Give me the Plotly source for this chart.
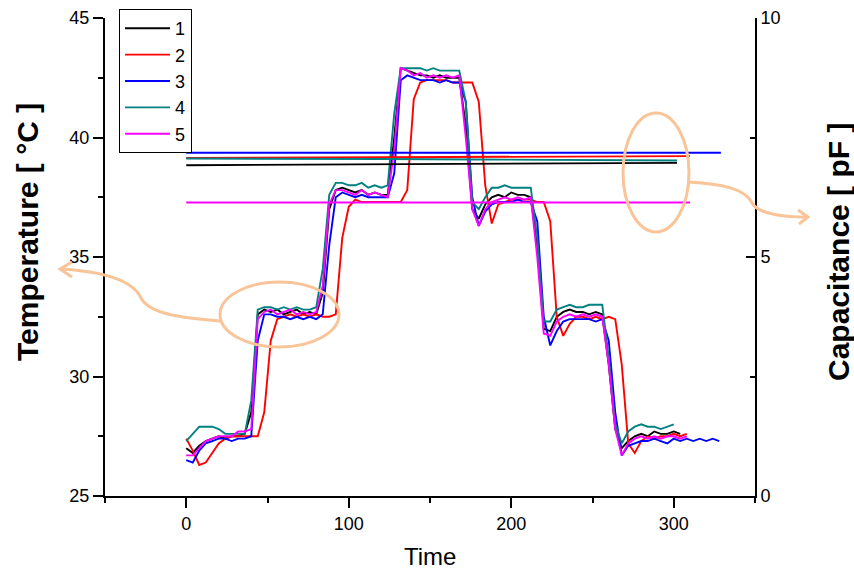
import plotly.graph_objects as go

# ---------------- data ----------------
time = list(range(0, 329, 4))  # seconds, shared sampling grid

temp_1 = [27.0, 26.8, 27.1, 27.3, 27.4, 27.5, 27.4, 27.5, 27.5, 27.6,
          28.5, 32.6, 32.8, 32.7, 32.8, 32.6, 32.7, 32.8, 32.6, 32.7,
          32.6, 33.5, 37.0, 37.8, 37.9, 37.8, 37.7, 37.8, 37.6, 37.7,
          37.6, 37.6, 40.0, 42.9, 42.8, 42.7, 42.6, 42.6, 42.5, 42.6,
          42.5, 42.5, 42.5, 40.5, 37.0, 36.6, 37.2, 37.5, 37.6, 37.5,
          37.7, 37.6, 37.6, 37.5, 35.5, 32.0, 31.9, 32.5, 32.7, 32.8,
          32.7, 32.7, 32.6, 32.7, 32.6, 30.5, 27.8, 27.0, 27.3, 27.5,
          27.6, 27.5, 27.7, 27.6, 27.6, 27.7, 27.6]

temp_2 = [27.4, 26.9, 26.3, 26.4, 26.8, 27.2, 27.4, 27.5, 27.5, 27.5,
          27.5, 27.5, 28.5, 31.5, 32.4, 32.5, 32.6, 32.5, 32.6, 32.5,
          32.6, 32.5, 32.5, 32.6, 35.8, 37.1, 37.4, 37.3, 37.3, 37.3,
          37.3, 37.3, 37.3, 37.3, 37.8, 41.6, 42.3, 42.4, 42.4, 42.4,
          42.4, 42.3, 42.3, 42.3, 42.3, 41.5, 38.0, 36.4, 37.2, 37.3,
          37.4, 37.4, 37.4, 37.4, 37.3, 37.3, 36.5, 32.5, 31.7, 32.2,
          32.5, 32.5, 32.4, 32.5, 32.4, 32.5, 32.4, 30.5, 27.2, 26.8,
          27.3, 27.5, 27.4, 27.5, 27.5, 27.6, 27.5, 27.6]

temp_3 = [26.5, 26.4, 26.9, 27.2, 27.3, 27.4, 27.4, 27.3, 27.4, 27.4,
          27.5, 31.5, 32.6, 32.6, 32.5, 32.5, 32.4, 32.5, 32.4, 32.5,
          32.4, 32.6, 35.5, 37.5, 37.7, 37.6, 37.5, 37.6, 37.5, 37.5,
          37.5, 37.5, 38.5, 42.4, 42.6, 42.5, 42.4, 42.4, 42.4, 42.3,
          42.4, 42.3, 42.3, 41.5, 37.5, 36.3, 36.9, 37.2, 37.3, 37.3,
          37.3, 37.4, 37.3, 37.3, 36.5, 32.5, 31.3, 31.9, 32.3, 32.4,
          32.4, 32.4, 32.4, 32.3, 32.4, 31.5, 28.5, 26.7, 27.1, 27.2,
          27.3, 27.3, 27.4, 27.3, 27.2, 27.4, 27.3, 27.4, 27.3, 27.4,
          27.3, 27.4, 27.3]

temp_4 = [27.3, 27.6, 27.9, 27.9, 27.9, 27.8, 27.6, 27.6, 27.6, 27.6,
          29.0, 32.8, 32.9, 32.9, 32.8, 32.9, 32.8, 32.9, 32.8, 32.8,
          32.9, 34.5, 37.6, 38.1, 38.1, 38.0, 38.0, 38.1, 37.9, 38.0,
          37.9, 38.0, 41.0, 42.9, 42.9, 42.9, 42.9, 42.8, 42.9, 42.8,
          42.8, 42.8, 42.8, 41.5, 37.3, 37.0, 37.5, 37.9, 37.9, 38.0,
          37.9, 37.9, 37.9, 37.9, 35.8, 32.3, 32.3, 32.8, 32.9, 33.0,
          32.9, 32.9, 33.0, 33.0, 33.0, 30.8, 28.0, 27.2, 27.7, 27.9,
          28.0, 27.9, 27.9, 27.8, 27.9, 28.0]

temp_5 = [26.7, 26.7, 27.0, 27.3, 27.4, 27.5, 27.5, 27.5, 27.7, 27.7,
          27.8, 32.4, 32.7, 32.8, 32.6, 32.7, 32.8, 32.6, 32.7, 32.6,
          32.7, 33.8, 37.2, 37.8, 37.8, 37.7, 37.6, 37.8, 37.6, 37.7,
          37.6, 37.5, 39.5, 42.9, 42.8, 42.6, 42.7, 42.5, 42.6, 42.5,
          42.6, 42.5, 42.6, 40.0, 37.0, 36.3, 37.0, 37.3, 37.4, 37.5,
          37.4, 37.5, 37.4, 37.5, 35.0, 31.8, 31.7, 32.3, 32.5, 32.6,
          32.5, 32.6, 32.5, 32.6, 32.5, 30.5, 27.8, 26.7, 27.2, 27.4,
          27.5, 27.4, 27.5, 27.4, 27.5, 27.5, 27.4, 27.5]

cap_time_1 = [0, 60, 120, 180, 240, 302]
cap_1 = [6.92, 6.93, 6.93, 6.95, 6.96, 6.97]
cap_time_2 = [0, 60, 120, 180, 240, 310]
cap_2 = [7.07, 7.08, 7.09, 7.10, 7.10, 7.11]
cap_time_3 = [0, 100, 200, 300, 329]
cap_3 = [7.18, 7.18, 7.19, 7.18, 7.18]
cap_time_4 = [0, 60, 120, 180, 240, 302]
cap_4 = [7.06, 7.06, 7.05, 7.04, 7.03, 7.02]
cap_time_5 = [0, 100, 200, 310]
cap_5 = [6.14, 6.14, 6.15, 6.14]

names = ["1", "2", "3", "4", "5"]
colors = ["#000000", "#FF0000", "#0000FF", "#008080", "#FF00FF"]
temps = [temp_1, temp_2, temp_3, temp_4, temp_5]
caps = [(cap_time_1, cap_1), (cap_time_2, cap_2), (cap_time_3, cap_3),
        (cap_time_4, cap_4), (cap_time_5, cap_5)]

x_ticks = [0, 100, 200, 300]

# ---------------- layout geometry (page pixels) ----------------
W, H = 854, 574
PL, PR, PT, PB = 105, 755, 18, 496   # plot area in page pixels
ORANGE = "rgb(249,196,152)"
FONT = "Liberation Sans, Arial, sans-serif"


def fx(x):
    return (x - PL) / (PR - PL)


def fy(y):
    return (PB - y) / (PB - PT)


def path(cmds):
    out = []
    for c, pts in cmds:
        out.append(c + " " + " ".join(f"{fx(a):.4f},{fy(b):.4f}" for a, b in pts))
    return " ".join(out)


fig = go.Figure()

for n, c, tv in zip(names, colors, temps):
    fig.add_trace(go.Scatter(x=time[:len(tv)], y=tv, mode="lines", name=n,
                             line=dict(color=c, width=1.9), yaxis="y"))

for n, c, (ct, cv) in zip(names, colors, caps):
    fig.add_trace(go.Scatter(x=ct, y=cv, mode="lines", name=n, showlegend=False,
                             line=dict(color=c, width=1.9), yaxis="y2"))

shapes = [
    dict(type="circle", xref="paper", yref="paper",
         x0=fx(220), x1=fx(339), y0=fy(347), y1=fy(282),
         line=dict(color=ORANGE, width=3)),
    dict(type="circle", xref="paper", yref="paper",
         x0=fx(623), x1=fx(689), y0=fy(232), y1=fy(113),
         line=dict(color=ORANGE, width=3)),
    dict(type="path", xref="paper", yref="paper",
         path=path([("M", [(220, 321)]),
                    ("C", [(185, 318), (150, 315), (141, 298)]),
                    ("C", [(135, 285), (115, 272), (60, 269)])]),
         line=dict(color=ORANGE, width=3)),
    dict(type="path", xref="paper", yref="paper",
         path=path([("M", [(72, 262)]), ("L", [(60, 269)]), ("L", [(72, 277)])]),
         line=dict(color=ORANGE, width=3)),
    dict(type="path", xref="paper", yref="paper",
         path=path([("M", [(689, 182)]),
                    ("C", [(720, 184), (745, 188), (752, 203)]),
                    ("C", [(758, 214), (785, 217), (808, 217)])]),
         line=dict(color=ORANGE, width=3)),
    dict(type="path", xref="paper", yref="paper",
         path=path([("M", [(798, 210)]), ("L", [(808, 217)]), ("L", [(799, 224)])]),
         line=dict(color=ORANGE, width=3)),
]

annotations = [
    dict(x=fx(27), y=fy(232), xref="paper", yref="paper", showarrow=False,
         text="<b>Temperature [ °C ]</b>", textangle=-90,
         font=dict(family=FONT, size=30, color="black"),
         xanchor="center", yanchor="middle"),
    dict(x=fx(838), y=fy(252), xref="paper", yref="paper", showarrow=False,
         text="<b>Capacitance [ pF ]</b>", textangle=-90,
         font=dict(family=FONT, size=30, color="black"),
         xanchor="center", yanchor="middle"),
    dict(x=fx(430), y=fy(556), xref="paper", yref="paper", showarrow=False,
         text="Time", font=dict(family=FONT, size=24, color="black"),
         xanchor="center", yanchor="middle"),
]

axis_common = dict(showgrid=False, zeroline=False, showline=True, linewidth=2,
                   linecolor="black", tickwidth=2, tickcolor="black",
                   automargin=False,
                   tickfont=dict(family=FONT, size=18, color="black"))

fig.update_layout(
    width=W, height=H,
    margin=dict(l=PL, r=W - PR, t=PT, b=H - PB, pad=0, autoexpand=False),
    paper_bgcolor="white", plot_bgcolor="white",
    showlegend=True,
    legend=dict(x=fx(119), y=fy(9), xanchor="left", yanchor="top",
                bgcolor="white", bordercolor="black", borderwidth=1,
                font=dict(family=FONT, size=18, color="black"),
                tracegroupgap=0, itemwidth=45),
    xaxis=dict(range=[-50, 350], tickmode="array", tickvals=x_ticks,
               ticks="outside", ticklen=10,
               minor=dict(tickmode="linear", tick0=0, dtick=50, ticks="outside",
                          ticklen=5, tickwidth=2, tickcolor="black", showgrid=False),
               **axis_common),
    yaxis=dict(range=[25, 45], tickmode="linear", tick0=25, dtick=5,
               ticks="outside", ticklen=10,
               minor=dict(tickmode="linear", tick0=25, dtick=2.5, ticks="outside",
                          ticklen=5, tickwidth=2, tickcolor="black", showgrid=False),
               **axis_common),
    yaxis2=dict(range=[0, 10], overlaying="y", side="right", anchor="x",
                tickmode="linear", tick0=0, dtick=5, ticks="inside", ticklen=9,
                minor=dict(tickmode="linear", tick0=0, dtick=2.5, ticks="inside",
                           ticklen=5, tickwidth=2, tickcolor="black", showgrid=False),
                **axis_common),
    shapes=shapes,
    annotations=annotations,
)

fig.write_html(
    "out.html",
    config={"displayModeBar": False},
    post_script="document.body.style.margin='0';document.body.style.overflow='hidden';",
)
